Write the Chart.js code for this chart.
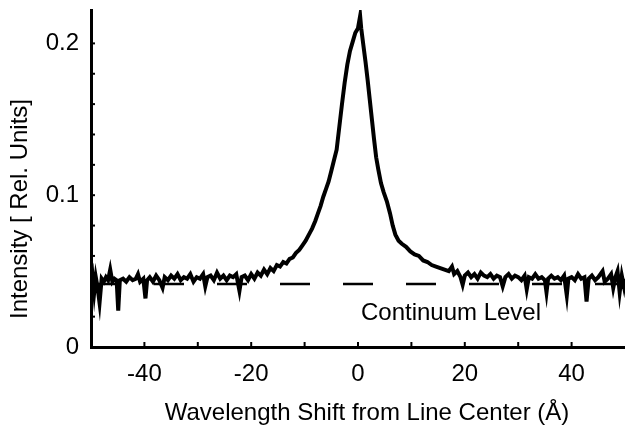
<!DOCTYPE html>
<html>
<head>
<meta charset="utf-8">
<script src="https://cdn.jsdelivr.net/npm/chart.js@4.4.1/dist/chart.umd.min.js"></script>
<style>
  html, body { margin: 0; padding: 0; background: #fff; }
  #wrap { width: 625px; height: 429px; }
</style>
</head>
<body>
<div id="wrap"><canvas id="chart" width="625" height="429"></canvas></div>
<script>
const shift = [
  -50.0, -49.7, -49.4, -49.1, -48.8, -48.4, -48.0, -47.6, -47.2, -46.8,
  -46.4, -46.0, -45.6, -45.2, -44.9, -44.6, -44.0, -43.4, -42.8, -42.2,
  -41.6, -41.2, -40.8, -40.2, -39.8, -39.5, -39.0, -38.4, -37.8, -37.2,
  -36.6, -36.2, -35.6, -35.0, -34.4, -33.8, -33.2, -32.6, -32.0, -31.4,
  -30.8, -30.2, -29.6, -29.0, -28.6, -28.2, -27.6, -27.0, -26.4, -25.8,
  -25.2, -24.6, -24.0, -23.4, -22.8, -22.2, -21.8, -21.2, -20.6, -20.0,
  -19.4, -18.8, -18.2, -17.6, -17.0, -16.4, -15.8, -15.2, -14.6, -14.0,
  -13.4, -12.8, -12.2, -11.6, -11.0, -10.4, -9.8, -9.2, -8.6, -8.0,
  -7.6, -7.0, -6.5, -6.0, -5.5, -5.0, -4.5, -4.0, -3.5, -3.0,
  -2.5, -2.0, -1.5, -1.0, -0.5, 0.0, 0.4, 0.6, 1.0, 1.4,
  1.8, 2.2, 2.6, 3.0, 3.4, 3.8, 4.3, 4.8, 5.4, 6.0,
  6.5, 7.0, 7.6, 8.2, 9.0, 9.8, 10.6, 11.4, 12.2, 13.0,
  13.8, 14.6, 15.4, 16.2, 17.0, 17.6, 18.0, 18.6, 19.2, 19.6,
  20.0, 20.6, 21.2, 21.8, 22.4, 23.0, 23.6, 24.2, 24.8, 25.4,
  26.0, 26.6, 27.1, 27.6, 28.2, 28.8, 29.4, 30.0, 30.6, 31.2,
  31.6, 32.0, 32.6, 33.2, 33.8, 34.4, 35.0, 35.3, 35.6, 36.2,
  36.8, 37.4, 38.0, 38.6, 39.1, 39.4, 40.0, 40.6, 41.2, 41.8,
  42.4, 42.8, 43.2, 43.8, 44.4, 45.0, 45.8, 46.2, 46.8, 47.4,
  47.8, 48.2, 48.6, 49.0, 49.4, 49.8, 50.0
];
const intensity = [
  0.042, 0.047, 0.036, 0.046, 0.040, 0.029, 0.045, 0.043, 0.046, 0.044,
  0.051, 0.043, 0.045, 0.044, 0.024, 0.044, 0.045, 0.043, 0.046, 0.044,
  0.045, 0.048, 0.043, 0.045, 0.032, 0.044, 0.046, 0.043, 0.047, 0.044,
  0.039, 0.046, 0.044, 0.047, 0.045, 0.048, 0.044, 0.046, 0.045, 0.048,
  0.043, 0.046, 0.045, 0.048, 0.040, 0.046, 0.047, 0.044, 0.049, 0.045,
  0.047, 0.044, 0.047, 0.046, 0.048, 0.037, 0.046, 0.047, 0.044, 0.048,
  0.045, 0.049, 0.047, 0.051, 0.048, 0.052, 0.050, 0.054, 0.053, 0.056,
  0.055, 0.058, 0.059, 0.062, 0.064, 0.067, 0.070, 0.074, 0.078, 0.083,
  0.087, 0.093, 0.099, 0.104, 0.109, 0.116, 0.123, 0.130, 0.145, 0.160,
  0.174, 0.186, 0.195, 0.201, 0.207, 0.210, 0.218, 0.210, 0.199, 0.188,
  0.176, 0.163, 0.150, 0.137, 0.125, 0.117, 0.108, 0.102, 0.096, 0.088,
  0.080, 0.074, 0.070, 0.068, 0.066, 0.063, 0.061, 0.060, 0.057, 0.056,
  0.054, 0.053, 0.052, 0.051, 0.050, 0.053, 0.048, 0.050, 0.046, 0.041,
  0.047, 0.049, 0.046, 0.048, 0.045, 0.049, 0.047, 0.046, 0.048, 0.045,
  0.047, 0.046, 0.040, 0.046, 0.048, 0.045, 0.047, 0.046, 0.044, 0.047,
  0.038, 0.046, 0.045, 0.048, 0.045, 0.046, 0.044, 0.036, 0.045, 0.047,
  0.045, 0.046, 0.044, 0.047, 0.034, 0.045, 0.046, 0.044, 0.048, 0.045,
  0.046, 0.030, 0.045, 0.047, 0.044, 0.046, 0.050, 0.043, 0.045, 0.048,
  0.039, 0.046, 0.050, 0.036, 0.047, 0.040, 0.045
];
const continuumLevel = 0.0415;
const xTicks = [-40, -20, 0, 20, 40];
const yTicks = [0, 0.1, 0.2];

const FONT = '"Liberation Sans", Arial, Helvetica, sans-serif';

const spectrum = shift.map((x, i) => ({ x: x, y: intensity[i] }));
const continuum = [{ x: -50, y: continuumLevel }, { x: 50, y: continuumLevel }];

function near(v, list) {
  return list.some(t => Math.abs(v - t) < 1e-9);
}

// little inward tick marks, axis titles and the continuum label
const extras = {
  id: 'extras',
  afterDraw(chart) {
    const c = chart.ctx;
    const xs = chart.scales.x, ys = chart.scales.y;
    const area = chart.chartArea;
    c.save();
    c.strokeStyle = '#000';
    c.lineWidth = 2;
    xs.ticks.forEach(t => {
      if (t.value <= -50 || t.value >= 50) return;
      const px = xs.getPixelForValue(t.value);
      c.beginPath(); c.moveTo(px, area.bottom); c.lineTo(px, area.bottom - 5); c.stroke();
    });
    ys.ticks.forEach(t => {
      if (t.value <= 0 || t.value > 0.221) return;
      const py = ys.getPixelForValue(t.value);
      c.beginPath(); c.moveTo(area.left, py); c.lineTo(area.left + 4, py); c.stroke();
    });

    c.fillStyle = '#000';
    c.font = '24px ' + FONT;
    c.textAlign = 'center';
    c.textBaseline = 'middle';
    c.fillText('Wavelength Shift from Line Center (Å)', 367, 413);
    c.fillText('Continuum Level', 451, 313);
    c.translate(20, 209);
    c.rotate(-Math.PI / 2);
    c.fillText('Intensity [ Rel. Units]', 0, 0);
    c.restore();
  }
};

new Chart(document.getElementById('chart').getContext('2d'), {
  type: 'scatter',
  data: {
    datasets: [
      {
        data: spectrum,
        showLine: true,
        borderColor: '#000',
        borderWidth: 4,
        pointRadius: 0,
        tension: 0,
        order: 1
      },
      {
        data: continuum,
        showLine: true,
        borderColor: '#000',
        borderWidth: 2.5,
        borderDash: [30, 33],
        pointRadius: 0,
        order: 2
      }
    ]
  },
  options: {
    responsive: false,
    animation: false,
    layout: { padding: { top: 10, right: 0, left: 0, bottom: 0 } },
    plugins: {
      legend: { display: false },
      tooltip: { enabled: false }
    },
    scales: {
      x: {
        type: 'linear',
        min: -50,
        max: 50,
        border: { display: true, color: '#000', width: 3 },
        grid: { display: false },
        ticks: {
          stepSize: 10,
          autoSkip: false,
          maxRotation: 0,
          color: '#000',
          padding: 5,
          font: { family: FONT, size: 24 },
          callback: v => near(v, xTicks) ? String(v) : ''
        },
        afterFit: s => {
          s.height = 82;
          s.paddingLeft = 0;
          s.paddingRight = 0;
        }
      },
      y: {
        type: 'linear',
        min: 0,
        max: 0.222,
        border: { display: true, color: '#000', width: 3 },
        grid: { display: false },
        ticks: {
          stepSize: 0.02,
          autoSkip: false,
          color: '#000',
          padding: 4,
          font: { family: FONT, size: 24 },
          callback: v => near(v, yTicks) ? String(Math.round(v * 10) / 10) : ''
        },
        afterFit: s => {
          s.width = 91;
          s.paddingTop = 0;
          s.paddingBottom = 0;
        }
      }
    }
  },
  plugins: [extras]
});
</script>
</body>
</html>
